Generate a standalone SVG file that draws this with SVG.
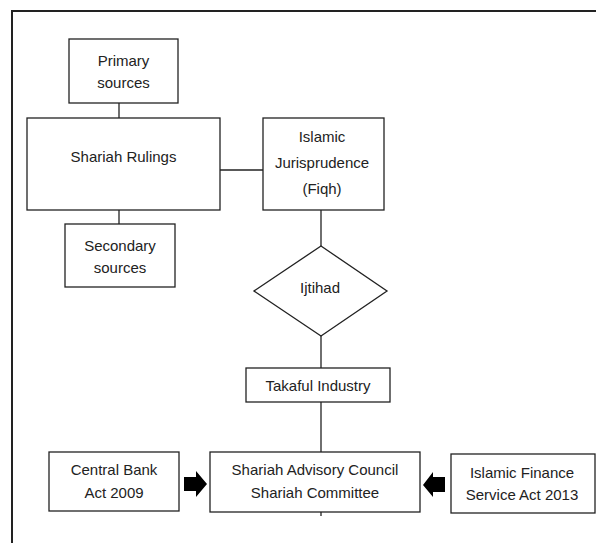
<svg xmlns="http://www.w3.org/2000/svg" width="596" height="543" viewBox="0 0 596 543">
<style>
.box{fill:#fff;stroke:#222;stroke-width:1.3}
.ln{stroke:#222;stroke-width:1.3;fill:none}
.t{font-family:"Liberation Sans",Arial,sans-serif;font-size:15px;fill:#222;text-anchor:middle}
.arr{fill:#000}
</style>
<rect width="596" height="543" fill="#fff"/>
<g id="frame">
<path d="M12 543 V11 H596" fill="none" stroke="#222" stroke-width="2"/>
</g>
<g id="connectors">
<line class="ln" x1="119" y1="103" x2="119" y2="118"/>
<line class="ln" x1="119" y1="210" x2="119" y2="224"/>
<line class="ln" x1="220" y1="170" x2="263" y2="170"/>
<line class="ln" x1="321" y1="210" x2="321" y2="246"/>
<line class="ln" x1="321" y1="336" x2="321" y2="368"/>
<line class="ln" x1="321" y1="402" x2="321" y2="452"/>
<line class="ln" x1="321" y1="512" x2="321" y2="516"/>
<path class="arr" d="M184 477 H196 V471 L207 484 L196 497 V491 H184 Z"/>
<path class="arr" d="M445 477 H433 V472 L423 485 L433 497 V492 H445 Z"/>
</g>
<g id="primary">
<rect class="box" x="69" y="39" width="109" height="64"/>
<text class="t" x="123.5" y="66">Primary</text>
<text class="t" x="123.5" y="88">sources</text>
</g>
<g id="rulings">
<rect class="box" x="27" y="118" width="193" height="92"/>
<text class="t" x="123.5" y="162">Shariah Rulings</text>
</g>
<g id="secondary">
<rect class="box" x="65" y="224" width="110" height="63"/>
<text class="t" x="120" y="251">Secondary</text>
<text class="t" x="120" y="273">sources</text>
</g>
<g id="fiqh">
<rect class="box" x="263" y="118" width="121" height="92"/>
<text class="t" x="322" y="142">Islamic</text>
<text class="t" x="322" y="168">Jurisprudence</text>
<text class="t" x="322" y="194">(Fiqh)</text>
</g>
<g id="ijtihad">
<polygon class="box" points="321,246 387,291 321,336 254,291"/>
<text class="t" x="320" y="293">Ijtihad</text>
</g>
<g id="takaful">
<rect class="box" x="246" y="368" width="144" height="34"/>
<text class="t" x="318" y="391">Takaful Industry</text>
</g>
<g id="sac">
<rect class="box" x="210" y="452" width="210" height="60"/>
<text class="t" x="315" y="475">Shariah Advisory Council</text>
<text class="t" x="315" y="498">Shariah Committee</text>
</g>
<g id="cba">
<rect class="box" x="49" y="452" width="130" height="59"/>
<text class="t" x="114" y="475">Central Bank</text>
<text class="t" x="114" y="498">Act 2009</text>
</g>
<g id="ifsa">
<rect class="box" x="451" y="454" width="144" height="59"/>
<text class="t" x="522" y="478">Islamic Finance</text>
<text class="t" x="522" y="500">Service Act 2013</text>
</g>
</svg>
